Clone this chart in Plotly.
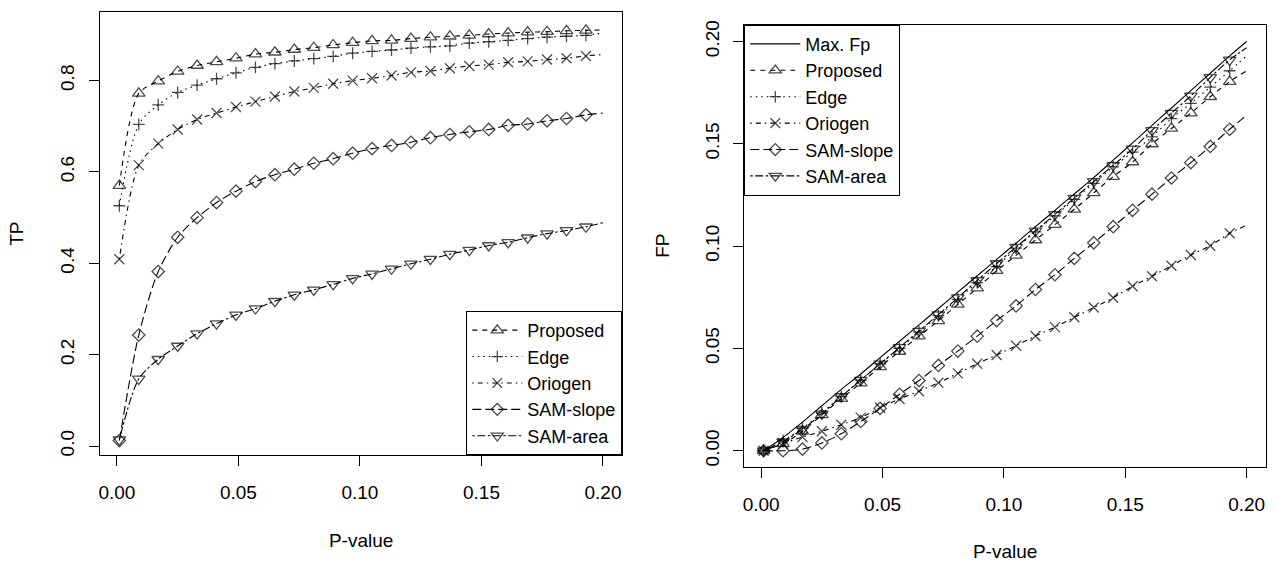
import plotly.graph_objects as go

# ---------------- data ----------------
p_values = [0.001, 0.009, 0.017, 0.025, 0.033, 0.041, 0.049, 0.057, 0.065, 0.073,
            0.081, 0.089, 0.097, 0.105, 0.113, 0.121, 0.129, 0.137, 0.145, 0.153,
            0.161, 0.169, 0.177, 0.185, 0.193, 0.200]
n_markers = 25  # the last p-value only ends the lines (no symbol)

# Left panel: TP
proposed_tp = [0.570, 0.772, 0.799, 0.820, 0.833, 0.841, 0.849, 0.858, 0.862, 0.868,
               0.872, 0.878, 0.883, 0.887, 0.888, 0.892, 0.895, 0.897, 0.899, 0.902,
               0.904, 0.906, 0.907, 0.909, 0.910, 0.911]
edge_tp = [0.526, 0.704, 0.747, 0.774, 0.790, 0.804, 0.817, 0.829, 0.837, 0.843,
           0.848, 0.853, 0.860, 0.864, 0.867, 0.871, 0.874, 0.876, 0.882, 0.885,
           0.888, 0.892, 0.895, 0.897, 0.899, 0.904]
oriogen_tp = [0.409, 0.615, 0.662, 0.693, 0.715, 0.729, 0.742, 0.754, 0.765, 0.776,
              0.784, 0.793, 0.800, 0.805, 0.811, 0.818, 0.821, 0.827, 0.832, 0.835,
              0.840, 0.842, 0.846, 0.849, 0.854, 0.857]
samslope_tp = [0.012, 0.243, 0.382, 0.457, 0.500, 0.533, 0.558, 0.579, 0.594, 0.606,
               0.619, 0.629, 0.641, 0.651, 0.658, 0.665, 0.675, 0.682, 0.688, 0.693,
               0.702, 0.705, 0.712, 0.717, 0.725, 0.729]
samarea_tp = [0.014, 0.147, 0.190, 0.219, 0.246, 0.268, 0.287, 0.301, 0.317, 0.331,
              0.342, 0.354, 0.367, 0.377, 0.388, 0.399, 0.409, 0.420, 0.429, 0.439,
              0.446, 0.456, 0.465, 0.472, 0.480, 0.489]

# Right panel: FP
maxfp_fp = [0.0, 0.0065, 0.0140, 0.0220, 0.0300, 0.0375, 0.0455, 0.0535, 0.0615, 0.0695,
            0.0775, 0.0855, 0.0935, 0.1015, 0.1095, 0.1175, 0.1255, 0.1335, 0.1420, 0.1505,
            0.1590, 0.1675, 0.1760, 0.1845, 0.1930, 0.2000]
proposed_fp = [0.0, 0.0035, 0.0095, 0.0175, 0.0255, 0.0330, 0.0410, 0.0485, 0.0560, 0.0635,
               0.0715, 0.0795, 0.0880, 0.0955, 0.1030, 0.1105, 0.1180, 0.1260, 0.1340, 0.1411,
               0.1499, 0.1575, 0.1650, 0.1730, 0.1804, 0.1857]
edge_fp = [0.0, 0.0050, 0.0110, 0.0185, 0.0265, 0.0345, 0.0425, 0.0500, 0.0580, 0.0660,
           0.0740, 0.0822, 0.0900, 0.0990, 0.1070, 0.1148, 0.1228, 0.1307, 0.1387, 0.1459,
           0.1534, 0.1623, 0.1698, 0.1777, 0.1857, 0.1930]
oriogen_fp = [0.0, 0.0035, 0.0067, 0.0095, 0.0127, 0.0162, 0.0210, 0.0253, 0.0291, 0.0332,
              0.0378, 0.0425, 0.0468, 0.0513, 0.0561, 0.0604, 0.0652, 0.0700, 0.0748, 0.0804,
              0.0853, 0.0904, 0.0957, 0.1002, 0.1063, 0.1103]
samslope_fp = [0.0, 0.0, 0.0008, 0.0038, 0.0083, 0.0143, 0.0207, 0.0276, 0.0343, 0.0417,
               0.0487, 0.0560, 0.0636, 0.0708, 0.0788, 0.0860, 0.0940, 0.1016, 0.1095, 0.1175,
               0.1254, 0.1333, 0.1408, 0.1487, 0.1571, 0.1640]
samarea_fp = [0.0, 0.0045, 0.0105, 0.0180, 0.0265, 0.0345, 0.0425, 0.0505, 0.0585, 0.0665,
              0.0748, 0.0832, 0.0915, 0.0995, 0.1075, 0.1155, 0.1235, 0.1316, 0.1395, 0.1475,
              0.1566, 0.1650, 0.1734, 0.1825, 0.1910, 0.1970]

x_ticks = [0.00, 0.05, 0.10, 0.15, 0.20]
tp_ticks = [0.0, 0.2, 0.4, 0.6, 0.8]
fp_ticks = [0.00, 0.05, 0.10, 0.15, 0.20]

# ---------------- styles ----------------
FONT = "Liberation Sans, Arial, sans-serif"
FS = 19
LFS = 18
styles = {
    "Proposed":  dict(symbol="triangle-up-open", size=11, dash="5px,5px"),
    "Edge":      dict(symbol="cross-thin-open", size=8.5, dash="1.5px,4px"),
    "Oriogen":   dict(symbol="x-thin-open", size=10, dash="1.5px,4px,5px,4px"),
    "SAM-slope": dict(symbol="diamond-open", size=9.5, dash="9px,4px"),
    "SAM-area":  dict(symbol="triangle-down-open", size=11, dash="2.5px,2.5px,8px,2.5px"),
}

fig = go.Figure()


def add_series(name, yvals, xaxis, yaxis, legend):
    st = styles[name]
    sizes = [st["size"]] * n_markers + [0] * (len(p_values) - n_markers)
    fig.add_trace(go.Scatter(
        x=p_values, y=yvals, name=name, mode="lines+markers",
        xaxis=xaxis, yaxis=yaxis, legend=legend,
        line=dict(color="black", width=1.1, dash=st["dash"], shape="spline", smoothing=0.8),
        marker=dict(symbol=st["symbol"], size=sizes, color="black",
                    line=dict(color="black", width=1.3)),
    ))


left = [("Proposed", proposed_tp), ("Edge", edge_tp), ("Oriogen", oriogen_tp),
        ("SAM-slope", samslope_tp), ("SAM-area", samarea_tp)]
for name, vals in left:
    add_series(name, vals, "x", "y", "legend")

fig.add_trace(go.Scatter(
    x=p_values, y=maxfp_fp, name="Max. Fp", mode="lines",
    xaxis="x2", yaxis="y2", legend="legend2",
    line=dict(color="black", width=1.1, shape="spline", smoothing=0.8),
))
right = [("Proposed", proposed_fp), ("Edge", edge_fp), ("Oriogen", oriogen_fp),
         ("SAM-slope", samslope_fp), ("SAM-area", samarea_fp)]
for name, vals in right:
    add_series(name, vals, "x2", "y2", "legend2")

# ---------------- layout ----------------
W, H = 1275, 567
ML, MR, MT, MB = 100, 9, 8, 94
pw, ph = W - ML - MR, H - MT - MB


def px_x(px):
    return (px - ML) / pw


def px_y(py):
    return (H - MB - py) / ph


axis_common = dict(
    showline=True, linecolor="black", linewidth=1, mirror=True,
    ticks="outside", ticklen=10, tickwidth=1, tickcolor="black",
    showgrid=False, zeroline=False,
    tickfont=dict(family=FONT, size=FS, color="black"),
    title_font=dict(family=FONT, size=FS, color="black"),
)

xr = [-0.00696, 0.20796]
legend_common = dict(bgcolor="white", bordercolor="black", borderwidth=1,
                     font=dict(family=FONT, size=LFS, color="black"),
                     itemwidth=50, tracegroupgap=0)
fig.update_layout(
    width=W, height=H,
    margin=dict(l=ML, r=MR, t=MT, b=MB),
    paper_bgcolor="white", plot_bgcolor="white",
    font=dict(family=FONT, size=FS, color="black"),
    xaxis=dict(domain=[0, px_x(622.3)], range=xr, tickvals=x_ticks,
               tickformat=".2f", title=dict(text="P-value", standoff=31),
               ticklabelstandoff=10, anchor="y", **axis_common),
    yaxis=dict(domain=[px_y(460.7), px_y(8.3)], range=[-0.0195, 0.9495],
               tickvals=tp_ticks, tickformat=".1f", tickangle=-90,
               title=dict(text="TP", standoff=28), ticklabelstandoff=7,
               anchor="x", **axis_common),
    xaxis2=dict(domain=[px_x(744.3), 1], range=xr, tickvals=x_ticks,
                tickformat=".2f", title=dict(text="P-value", standoff=31),
                ticklabelstandoff=10, anchor="y2", **axis_common),
    yaxis2=dict(domain=[px_y(472.7), px_y(21)], range=[-0.0078, 0.2082],
                tickvals=fp_ticks, tickformat=".2f", tickangle=-90,
                title=dict(text="FP", standoff=27), ticklabelstandoff=7,
                anchor="x2", **axis_common),
    legend=dict(x=px_x(622.3), y=px_y(460.7), xanchor="right", yanchor="bottom",
                **legend_common),
    legend2=dict(x=px_x(744.3), y=px_y(21), xanchor="left", yanchor="top",
                 **legend_common),
    showlegend=True,
)

fig.write_html("out.html")
